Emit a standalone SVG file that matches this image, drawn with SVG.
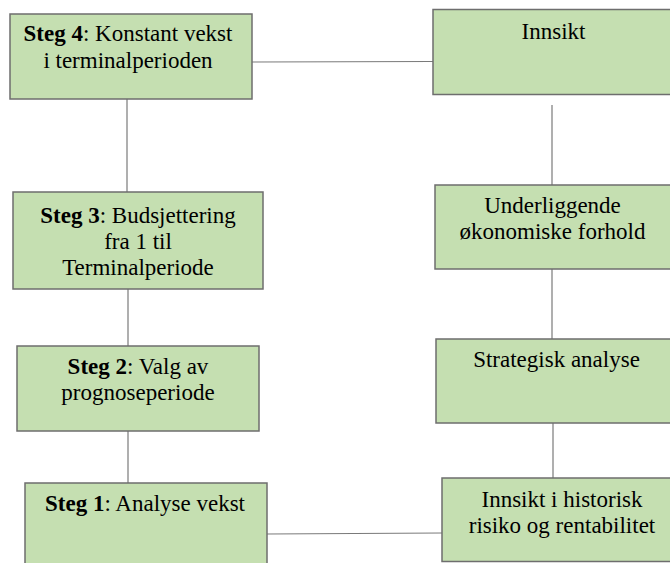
<svg xmlns="http://www.w3.org/2000/svg" width="670" height="563" viewBox="0 0 670 563">
<style>
.box{fill:#c5dfb1;stroke:#6e6e6e;stroke-width:1.5}
.t{font-size:23px;fill:#000;text-anchor:middle}
.b{font-weight:bold}
.c line{stroke:#7a7a7a;stroke-width:1.2}
</style>
<rect width="670" height="563" fill="#fff"/>
<g class="c" id="connectors">
<line x1="252" y1="62" x2="433" y2="61.5"/>
<line x1="127" y1="99" x2="127" y2="192"/>
<line x1="128" y1="289" x2="128" y2="346"/>
<line x1="128" y1="431" x2="128" y2="483"/>
<line x1="267" y1="534" x2="442" y2="533"/>
<line x1="552" y1="105" x2="552" y2="185"/>
<line x1="552" y1="269" x2="552" y2="339"/>
<line x1="553" y1="423" x2="553" y2="478"/>
</g>
<g font-family="Liberation Serif, Tinos, DejaVu Serif, serif">
<g id="steg4">
<rect class="box" x="10" y="14" width="242" height="85"/>
<text class="t" x="128" y="41"><tspan class="b">Steg 4</tspan>: Konstant vekst</text>
<text class="t" x="128" y="67.5">i terminalperioden</text>
</g>
<g id="steg3">
<rect class="box" x="13" y="192" width="250" height="97"/>
<text class="t" x="138" y="222.5"><tspan class="b">Steg 3</tspan>: Budsjettering</text>
<text class="t" x="138" y="249">fra 1 til</text>
<text class="t" x="138" y="275">Terminalperiode</text>
</g>
<g id="steg2">
<rect class="box" x="17" y="346" width="242" height="85"/>
<text class="t" x="138" y="373.5"><tspan class="b">Steg 2</tspan>: Valg av</text>
<text class="t" x="138" y="400">prognoseperiode</text>
</g>
<g id="steg1">
<rect class="box" x="25" y="483" width="242" height="95"/>
<text class="t" x="145" y="511"><tspan class="b">Steg 1</tspan>: Analyse vekst</text>
</g>
<g id="innsikt">
<rect class="box" x="433" y="9.5" width="250" height="85"/>
<text class="t" x="553.5" y="38.5">Innsikt</text>
</g>
<g id="underliggende">
<rect class="box" x="435" y="185" width="250" height="84"/>
<text class="t" x="552.5" y="212.5">Underliggende</text>
<text class="t" x="552.5" y="238.5">økonomiske forhold</text>
</g>
<g id="strategisk">
<rect class="box" x="436" y="339" width="250" height="84"/>
<text class="t" x="556.5" y="367">Strategisk analyse</text>
</g>
<g id="historisk">
<rect class="box" x="442" y="478" width="250" height="83.5"/>
<text class="t" x="562" y="506.5">Innsikt i historisk</text>
<text class="t" x="562" y="532.5">risiko og rentabilitet</text>
</g>
</g>
</svg>
